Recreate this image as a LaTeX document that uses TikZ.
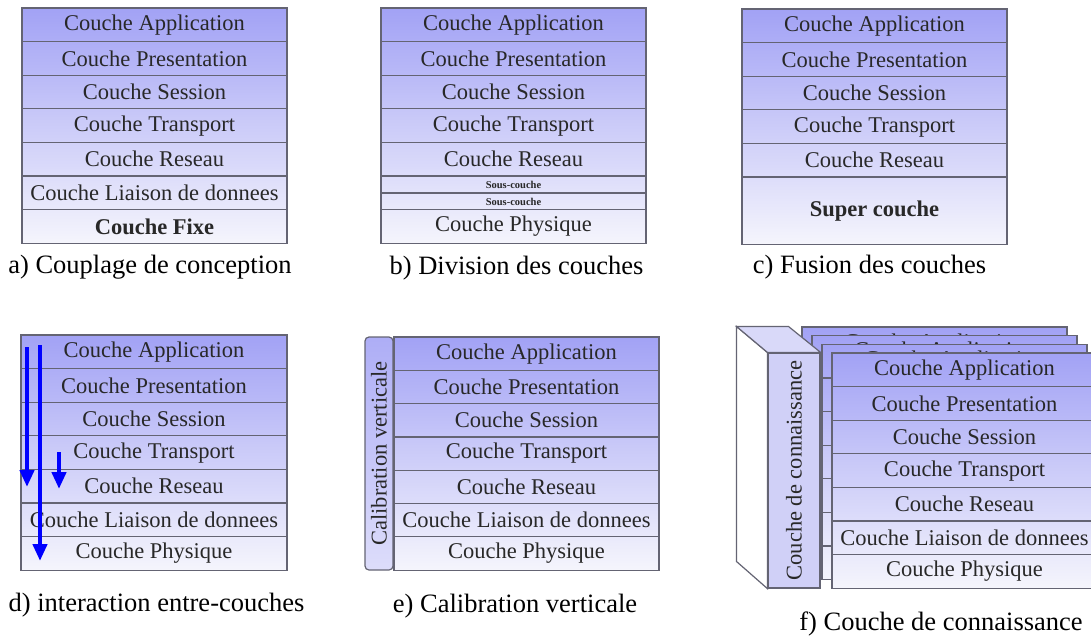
\documentclass[tikz,border=0pt]{standalone}
\usepackage{fontspec}
\usepackage{graphicx}
\setmainfont{Liberation Serif}
\usetikzlibrary{arrows.meta}

\definecolor{laytop}{RGB}{162,162,245}
\definecolor{laybot}{RGB}{245,245,252}
\colorlet{lay0}{laytop}
\colorlet{lay1}{laybot!14!laytop}
\colorlet{lay2}{laybot!28!laytop}
\colorlet{lay3}{laybot!43!laytop}
\colorlet{lay4}{laybot!57!laytop}
\colorlet{lay5}{laybot!71!laytop}
\colorlet{lay6}{laybot!86!laytop}
\colorlet{lay7}{laybot}
\definecolor{edgegray}{RGB}{100,100,115}
\definecolor{inkgray}{RGB}{40,40,40}
\definecolor{faceblue}{RGB}{208,208,247}

\newcommand{\rowfont}{\fontsize{22.5}{26}\selectfont}
\newcommand{\capfont}{\fontsize{26.5}{30}\selectfont}
\newcommand{\subfont}{\fontsize{10.5}{12}\selectfont\bfseries}

\begin{document}
\begin{tikzpicture}[x=1pt, y=-1pt,
	layer/.style 2 args={draw=edgegray, line width=1.2pt, top color=#1, bottom color=#2,
		minimum width=265pt, minimum height=33.6pt, inner sep=0pt, text=inkgray, font=\rowfont},
	caption/.style={inner sep=0pt, font=\capfont},
	flow/.style={draw=blue, line width=4.5pt, -{Triangle[length=17pt, width=14pt]}},
	face/.style={draw=edgegray, line width=1.2pt}]
	\useasboundingbox (0,0) rectangle (1091,639);

	% a) couplage de conception
	\node[layer={lay0}{lay1}] (a1) at (154.5, 24.8)  {Couche Application};
	\node[layer={lay1}{lay2}] (a2) at (154.5, 58.4)  {Couche Presentation};
	\node[layer={lay2}{lay3}] (a3) at (154.5, 92)    {Couche Session};
	\node[layer={lay3}{lay4}] (a4) at (154.5, 125.6) {Couche Transport};
	\node[layer={lay4}{lay5}] (a5) at (154.5, 159.2) {Couche Reseau};
	\node[layer={lay5}{lay6}] (a6) at (154.5, 192.8) {Couche Liaison de donnees};
	\node[layer={lay6}{lay7}] (a7) at (154.5, 226.4) {\textbf{Couche Fixe}};
	\node[caption] (capa) at (150, 267) {a) Couplage de conception};

	% b) division des couches
	\node[layer={lay0}{lay1}] (b1) at (513.5, 24.8)  {Couche Application};
	\node[layer={lay1}{lay2}] (b2) at (513.5, 58.4)  {Couche Presentation};
	\node[layer={lay2}{lay3}] (b3) at (513.5, 92)    {Couche Session};
	\node[layer={lay3}{lay4}] (b4) at (513.5, 125.6) {Couche Transport};
	\node[layer={lay4}{lay5}] (b5) at (513.5, 159.2) {Couche Reseau};
	\node[layer={lay5}{lay5!50!lay6}, minimum height=17pt, font=\subfont] (b6) at (513.5, 184.5) {Sous-couche};
	\node[layer={lay5!50!lay6}{lay6}, minimum height=17pt, font=\subfont] (b7) at (513.5, 201.5) {Sous-couche};
	\node[layer={lay6}{lay7}] (b8) at (513.5, 226.6) {Couche Physique};
	\node[caption] (capb) at (516.5, 268) {b) Division des couches};

	% c) fusion des couches
	\node[layer={lay0}{lay1}] (c1) at (874.5, 25.8)  {Couche Application};
	\node[layer={lay1}{lay2}] (c2) at (874.5, 59.4)  {Couche Presentation};
	\node[layer={lay2}{lay3}] (c3) at (874.5, 93)    {Couche Session};
	\node[layer={lay3}{lay4}] (c4) at (874.5, 126.6) {Couche Transport};
	\node[layer={lay4}{lay5}] (c5) at (874.5, 160.2) {Couche Reseau};
	\node[layer={lay5}{lay7}, minimum height=67.2pt] (c6) at (874.5, 210.6) {\textbf{Super couche}};
	\node[caption] (capc) at (869.5, 267) {c) Fusion des couches};

	% d) interaction entre-couches
	\node[layer={lay0}{lay1}, minimum width=266pt] (d1) at (154, 351.8) {Couche Application};
	\node[layer={lay1}{lay2}, minimum width=266pt] (d2) at (154, 385.4) {Couche Presentation};
	\node[layer={lay2}{lay3}, minimum width=266pt] (d3) at (154, 419)   {Couche Session};
	\node[layer={lay3}{lay4}, minimum width=266pt] (d4) at (154, 452.6) {Couche Transport};
	\node[layer={lay4}{lay5}, minimum width=266pt] (d5) at (154, 486.2) {Couche Reseau};
	\node[layer={lay5}{lay6}, minimum width=266pt] (d6) at (154, 519.8) {Couche Liaison de donnees};
	\node[layer={lay6}{lay7}, minimum width=266pt] (d7) at (154, 553.4) {Couche Physique};
	\coordinate (up1) at (27, 347);
	\coordinate (dn1) at (27, 487);
	\coordinate (up2) at (40, 345);
	\coordinate (dn2) at (40, 561);
	\coordinate (up3) at (59, 452);
	\coordinate (dn3) at (59, 489);
	\draw[flow] (up1) -- (dn1);
	\draw[flow] (up2) -- (dn2);
	\draw[flow] (up3) -- (dn3);
	\node[caption] (capd) at (156.5, 605) {d) interaction entre-couches};

	% e) calibration verticale
	\node[draw=edgegray, line width=1.2pt, rounded corners=4pt, top color=lay1, bottom color=lay5,
		minimum width=28pt, minimum height=233pt, inner sep=0pt, text=inkgray, font=\rowfont]
		(cal) at (379, 453.5) {\rotatebox{90}{Calibration verticale}};
	\node[layer={lay0}{lay1}, minimum height=33.3pt] (e1) at (526.5, 353.65) {Couche Application};
	\node[layer={lay1}{lay2}, minimum height=33.3pt] (e2) at (526.5, 386.95) {Couche Presentation};
	\node[layer={lay2}{lay3}, minimum height=33.3pt] (e3) at (526.5, 420.25) {Couche Session};
	\node[layer={lay3}{lay4}, minimum height=33.3pt] (e4) at (526.5, 453.55) {Couche Transport};
	\node[layer={lay4}{lay5}, minimum height=33.3pt] (e5) at (526.5, 486.85) {Couche Reseau};
	\node[layer={lay5}{lay6}, minimum height=33.3pt] (e6) at (526.5, 520.15) {Couche Liaison de donnees};
	\node[layer={lay6}{lay7}, minimum height=33.3pt] (e7) at (526.5, 553.45) {Couche Physique};
	\node[caption] (cape) at (515, 606) {e) Calibration verticale};

	% f) couche de connaissance: stacked copies behind the front stack,
	% only their top labels show through
	\node[layer={lay0}{lay1}] (ka1) at (934.5, 343.8) {Couche Application};
	\node[layer={lay1}{lay2}] (ka2) at (934.5, 377.4) {};
	\node[layer={lay2}{lay3}] (ka3) at (934.5, 411)   {};
	\node[layer={lay3}{lay4}] (ka4) at (934.5, 444.6) {};
	\node[layer={lay4}{lay5}] (ka5) at (934.5, 478.2) {};
	\node[layer={lay5}{lay6}] (ka6) at (934.5, 511.8) {};
	\node[layer={lay6}{lay7}] (ka7) at (934.5, 545.4) {};

	\node[layer={lay0}{lay1}] (kb1) at (944.5, 352.5) {Couche Application};
	\node[layer={lay1}{lay2}] (kb2) at (944.5, 386.1) {};
	\node[layer={lay2}{lay3}] (kb3) at (944.5, 419.7) {};
	\node[layer={lay3}{lay4}] (kb4) at (944.5, 453.3) {};
	\node[layer={lay4}{lay5}] (kb5) at (944.5, 486.9) {};
	\node[layer={lay5}{lay6}] (kb6) at (944.5, 520.5) {};
	\node[layer={lay6}{lay7}] (kb7) at (944.5, 554.1) {};

	\node[layer={lay0}{lay1}] (kc1) at (954.5, 361.1) {Couche Application};
	\node[layer={lay1}{lay2}] (kc2) at (954.5, 394.7) {};
	\node[layer={lay2}{lay3}] (kc3) at (954.5, 428.3) {};
	\node[layer={lay3}{lay4}] (kc4) at (954.5, 461.9) {};
	\node[layer={lay4}{lay5}] (kc5) at (954.5, 495.5) {};
	\node[layer={lay5}{lay6}] (kc6) at (954.5, 529.1) {};
	\node[layer={lay6}{lay7}] (kc7) at (954.5, 562.7) {};

	% the knowledge block as a box
	\node[face, fill=faceblue, minimum width=52pt, minimum height=235pt, inner sep=0pt,
		text=inkgray, font=\rowfont] (know) at (794, 470.5) {\rotatebox{90}{Couche de connaissance}};
	\draw[face, fill=white] (know.north west) -- ++(-31,-26) -- ++(0,235) -- (know.south west) -- cycle;
	\draw[face, fill=faceblue!80!white] (know.north west) -- ++(-31,-26) -- ++(52,0) -- (know.north east) -- cycle;

	\node[layer={lay0}{lay1}] (f1) at (964.5, 369.8) {Couche Application};
	\node[layer={lay1}{lay2}] (f2) at (964.5, 403.4) {Couche Presentation};
	\node[layer={lay2}{lay3}] (f3) at (964.5, 437)   {Couche Session};
	\node[layer={lay3}{lay4}] (f4) at (964.5, 470.6) {Couche Transport};
	\node[layer={lay4}{lay5}] (f5) at (964.5, 504.2) {Couche Reseau};
	\node[layer={lay5}{lay6}] (f6) at (964.5, 537.8) {Couche Liaison de donnees};
	\node[layer={lay6}{lay7}] (f7) at (964.5, 571.4) {Couche Physique};
	\node[caption] (capf) at (941, 624) {f) Couche de connaissance};

\end{tikzpicture}
\end{document}
